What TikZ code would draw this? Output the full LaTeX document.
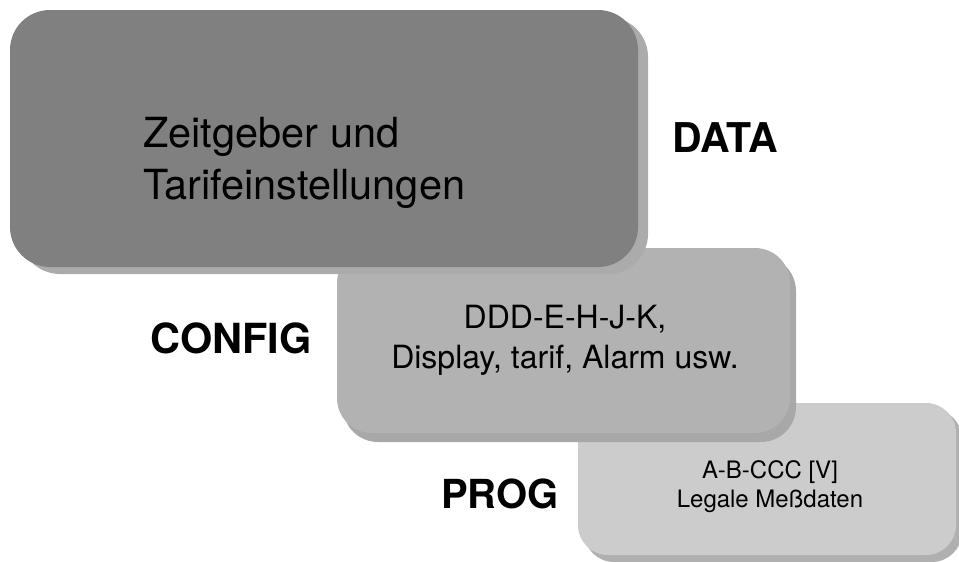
\documentclass[tikz,border=0pt]{standalone}
\usepackage{fontspec}
\setmainfont{TeX Gyre Heros}
\begin{document}
\begin{tikzpicture}[x=1pt,y=-1pt,
  panel/.style={draw=none,rounded corners=#1},
  lbl/.style={inner sep=0pt,font=\bfseries\fontsize{40}{46}\selectfont},
  txt/.style={inner sep=0pt}]
\useasboundingbox (0,0) rectangle (959,562);
% box 3
\fill[panel=30pt,fill=black!31] (584,409) rectangle (962,562);
\fill[panel=30pt,fill=black!20] (578,403) rectangle (956,555);
\node[txt,anchor=base,align=center,font=\fontsize{24}{29}\selectfont] (t3) at (770,507) {A-B-CCC [V]\\Legale Meßdaten};
% box 2
\fill[panel=35pt,fill=black!34] (343,256) rectangle (796,442);
\fill[panel=35pt,fill=black!30] (337,248) rectangle (790,433);
\node[txt,anchor=base,align=center,font=\fontsize{32}{40}\selectfont] (t2) at (565,368) {DDD-E-H-J-K,\\Display, tarif, Alarm usw.};
% box 1
\fill[panel=40pt,fill=black!33] (20,17) rectangle (648,274);
\fill[panel=40pt,fill=black!50] (10,10) rectangle (638,267);
\node[txt,anchor=base west,align=left,font=\fontsize{41.5}{52}\selectfont] (t1) at (143,199) {Zeitgeber und\\Tarifeinstellungen};
% labels
\node[lbl,anchor=base,font=\bfseries\fontsize{41}{46}\selectfont] (data) at (725,152) {DATA};
\node[lbl,anchor=base,font=\bfseries\fontsize{41.5}{46}\selectfont] (config) at (231,353) {CONFIG};
\node[lbl,anchor=base] (prog) at (500,508) {PROG};
\end{tikzpicture}
\end{document}
